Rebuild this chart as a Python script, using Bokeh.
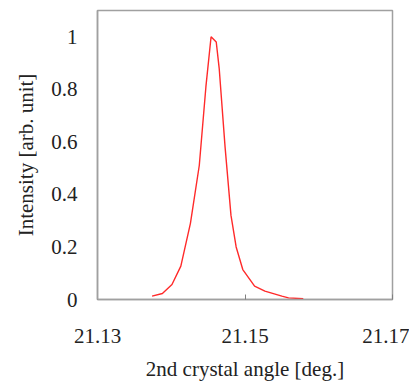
from bokeh.plotting import figure
from bokeh.models import Range1d, FixedTicker
from bokeh.embed import file_html
from bokeh.resources import INLINE

angle = [21.1374, 21.1388, 21.1401, 21.1413, 21.1426, 21.1438, 21.1447, 21.1454,
         21.1461, 21.1465, 21.1473, 21.1481, 21.1488, 21.1497, 21.1513, 21.1527,
         21.1550, 21.1559, 21.1579]
intensity = [0.013, 0.023, 0.057, 0.127, 0.29, 0.51, 0.81, 1.0,
             0.98, 0.88, 0.58, 0.32, 0.20, 0.114, 0.051, 0.032,
             0.013, 0.006, 0.003]

x_ticks = [21.13, 21.15, 21.17]
x_labels = ["21.13", "21.15", "21.17"]
y_ticks = [0, 0.2, 0.4, 0.6, 0.8, 1.0]
y_labels = ["0", "0.2", "0.4", "0.6", "0.8", "1"]

FONT = "Liberation Serif"
W, H = 409, 384

p = figure(width=W, height=H, output_backend="svg", toolbar_location=None,
           x_range=Range1d(21.13, 21.17), y_range=Range1d(0, 1.1),
           min_border_left=97, min_border_right=17, min_border_top=10, min_border_bottom=85)
p.line(angle, intensity, line_color="#ff2a2a", line_width=1.4)

p.grid.visible = False
p.outline_line_color = "#a0a0a0"
p.outline_line_width = 1.5

xa = p.xaxis[0]
xa.ticker = FixedTicker(ticks=x_ticks)
xa.major_label_overrides = {t: l for t, l in zip(x_ticks, x_labels)}
xa.axis_label = "2nd crystal angle [deg.]"
xa.major_tick_in = 5
xa.major_tick_out = 0
xa.minor_tick_line_color = None
xa.major_tick_line_color = "#808080"
xa.axis_line_color = "#a0a0a0"
xa.axis_line_width = 1.5
xa.major_label_standoff = 29
xa.axis_label_standoff = 11

ya = p.yaxis[0]
ya.ticker = FixedTicker(ticks=y_ticks)
ya.major_label_overrides = {t: l for t, l in zip(y_ticks, y_labels)}
ya.axis_label = "Intensity [arb. unit]"
ya.major_tick_line_color = None
ya.minor_tick_line_color = None
ya.axis_line_color = "#a0a0a0"
ya.axis_line_width = 1.5
ya.major_label_standoff = 14
ya.axis_label_standoff = 10

for ax in (xa, ya):
    ax.major_label_text_font = FONT
    ax.major_label_text_font_size = "21px"
    ax.major_label_text_color = "#222222"
    ax.axis_label_text_font = FONT
    ax.axis_label_text_font_size = "21px"
    ax.axis_label_text_font_style = "normal"
    ax.axis_label_text_color = "#222222"

open("out.html", "w").write(file_html(p, INLINE))
